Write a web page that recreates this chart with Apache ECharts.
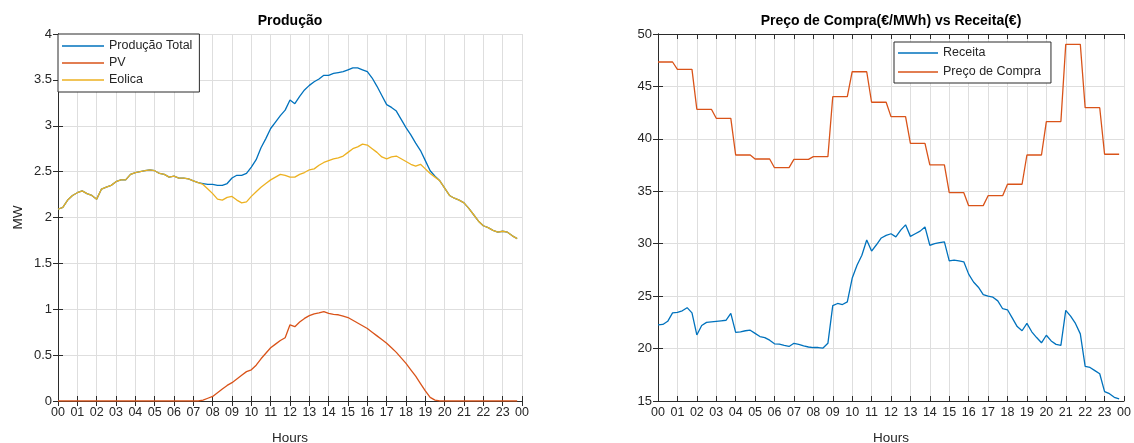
<!DOCTYPE html>
<html>
<head>
<meta charset="utf-8">
<script src="https://cdn.jsdelivr.net/npm/echarts@6/dist/echarts.min.js"></script>
<style>
  html, body { margin: 0; padding: 0; background: #ffffff; }
  #chart { width: 1134px; height: 443px; }
</style>
</head>
<body>
<div id="chart"></div>
<script>
// Hour tick labels for both x axes (midnight to midnight)
const hourLabels = ['00','01','02','03','04','05','06','07','08','09','10','11',
                    '12','13','14','15','16','17','18','19','20','21','22','23','00'];

// Production, MW, one value every 15 minutes starting at 00:00
const producaoTotal = [
  2.09, 2.11, 2.19, 2.24, 2.27, 2.29, 2.26, 2.24, 2.20, 2.31, 2.33, 2.35,
  2.39, 2.41, 2.41, 2.47, 2.49, 2.50, 2.51, 2.52, 2.51, 2.48, 2.47, 2.44,
  2.45, 2.43, 2.43, 2.42, 2.40, 2.38, 2.37, 2.36, 2.36, 2.35, 2.35, 2.37,
  2.43, 2.46, 2.46, 2.48, 2.55, 2.63, 2.76, 2.86, 2.97, 3.04, 3.11, 3.17,
  3.28, 3.24, 3.32, 3.39, 3.44, 3.48, 3.51, 3.55, 3.55, 3.57, 3.58, 3.59,
  3.61, 3.63, 3.63, 3.61, 3.59, 3.52, 3.43, 3.33, 3.23, 3.20, 3.16, 3.07,
  2.98, 2.90, 2.81, 2.73, 2.62, 2.51, 2.45, 2.40, 2.32, 2.24, 2.21, 2.19,
  2.16, 2.10, 2.03, 1.96, 1.91, 1.89, 1.86, 1.84, 1.85, 1.84, 1.80, 1.77
];
const pv = [
  0, 0, 0, 0, 0, 0, 0, 0, 0, 0, 0, 0,
  0, 0, 0, 0, 0, 0, 0, 0, 0, 0, 0, 0,
  0, 0, 0, 0, 0, 0, 0.01, 0.03, 0.05, 0.09, 0.13, 0.17,
  0.20, 0.24, 0.28, 0.32, 0.34, 0.39, 0.46, 0.52, 0.58, 0.62, 0.66, 0.69,
  0.83, 0.81, 0.86, 0.90, 0.93, 0.95, 0.96, 0.975, 0.955, 0.945, 0.94, 0.925,
  0.91, 0.88, 0.85, 0.82, 0.79, 0.75, 0.71, 0.67, 0.63, 0.58, 0.53, 0.47,
  0.41, 0.34, 0.27, 0.19, 0.11, 0.04, 0.01, 0, 0, 0, 0, 0,
  0, 0, 0, 0, 0, 0, 0, 0, 0, 0, 0, 0
];
const eolica = [
  2.09, 2.11, 2.19, 2.24, 2.27, 2.29, 2.26, 2.24, 2.20, 2.31, 2.33, 2.35,
  2.39, 2.41, 2.41, 2.47, 2.49, 2.50, 2.51, 2.52, 2.51, 2.48, 2.47, 2.44,
  2.45, 2.43, 2.43, 2.42, 2.40, 2.38, 2.36, 2.31, 2.26, 2.20, 2.19, 2.22,
  2.23, 2.19, 2.16, 2.17, 2.23, 2.28, 2.33, 2.37, 2.41, 2.44, 2.47, 2.46,
  2.44, 2.44, 2.47, 2.49, 2.52, 2.53, 2.57, 2.60, 2.62, 2.64, 2.65, 2.67,
  2.71, 2.75, 2.77, 2.80, 2.79, 2.75, 2.71, 2.66, 2.64, 2.66, 2.67, 2.64,
  2.61, 2.58, 2.56, 2.58, 2.53, 2.48, 2.44, 2.40, 2.32, 2.24, 2.21, 2.19,
  2.16, 2.10, 2.03, 1.96, 1.91, 1.89, 1.86, 1.84, 1.85, 1.84, 1.80, 1.77
];

// Revenue (€) and purchase price (€/MWh), one value every 15 minutes
const receita = [
  22.25, 22.30, 22.60, 23.40, 23.45, 23.60, 23.90, 23.40, 21.30, 22.20, 22.50, 22.55,
  22.60, 22.65, 22.70, 23.35, 21.55, 21.60, 21.70, 21.75, 21.45, 21.15, 21.05, 20.80,
  20.45, 20.42, 20.30, 20.20, 20.50, 20.40, 20.25, 20.15, 20.10, 20.10, 20.05, 20.50,
  24.10, 24.30, 24.20, 24.45, 26.70, 27.95, 28.90, 30.35, 29.30, 29.90, 30.55, 30.80,
  30.95, 30.65, 31.30, 31.80, 30.70, 30.95, 31.20, 31.60, 29.85, 30.00, 30.10, 30.17,
  28.36, 28.43, 28.36, 28.27, 27.10, 26.35, 25.85, 25.15, 25.00, 24.90, 24.55, 23.80,
  23.70, 22.90, 22.10, 21.70, 22.40, 21.60, 21.05, 20.55, 21.27, 20.73, 20.40, 20.30,
  23.65, 23.10, 22.40, 21.40, 18.30, 18.20, 17.90, 17.60, 15.90, 15.70, 15.35, 15.20
];
const precoCompra = [
  47.33, 47.33, 47.33, 47.33,  46.63, 46.63, 46.63, 46.63,  42.82, 42.82, 42.82, 42.82,
  41.96, 41.96, 41.96, 41.96,  38.46, 38.46, 38.46, 38.46,  38.08, 38.08, 38.08, 38.08,
  37.25, 37.25, 37.25, 37.25,  38.05, 38.05, 38.05, 38.05,  38.30, 38.30, 38.30, 38.30,
  44.02, 44.02, 44.02, 44.02,  46.40, 46.40, 46.40, 46.40,  43.49, 43.49, 43.49, 43.49,
  42.12, 42.12, 42.12, 42.12,  39.57, 39.57, 39.57, 39.57,  37.51, 37.51, 37.51, 37.51,
  34.87, 34.87, 34.87, 34.87,  33.63, 33.63, 33.63, 33.63,  34.58, 34.58, 34.58, 34.58,
  35.67, 35.67, 35.67, 35.67,  38.46, 38.46, 38.46, 38.46,  41.65, 41.65, 41.65, 41.65,
  49.02, 49.02, 49.02, 49.02,  42.97, 42.97, 42.97, 42.97,  38.53, 38.53, 38.53, 38.53
];

// Sample times in hours (15-minute resolution)
const SAMPLE_STEP = 0.25;
const withTime = arr => arr.map((v, i) => [i * SAMPLE_STEP, v]);

const FONT = '"Liberation Sans", Arial, Helvetica, sans-serif';
const AXIS_COLOR = '#2b2b2b';
const TEXT_COLOR = '#262626';
const GRID_COLOR = '#dedede';
const BLUE = '#0072BD', ORANGE = '#D95319', YELLOW = '#EDB120';

function hourAxis(gridIndex, position, withLabels) {
  return {
    type: 'value', gridIndex, position, min: 0, max: 24, interval: 1,
    axisLine: { show: true, lineStyle: { color: AXIS_COLOR, width: 1 } },
    axisTick: { show: true, inside: true, length: 5, lineStyle: { color: AXIS_COLOR } },
    axisLabel: {
      show: withLabels, margin: 5, color: TEXT_COLOR, fontFamily: FONT, fontSize: 12.5,
      formatter: v => hourLabels[Math.round(v)]
    },
    splitLine: { show: withLabels, lineStyle: { color: GRID_COLOR, width: 1 } },
    name: withLabels ? 'Hours' : '',
    nameLocation: 'middle', nameGap: 30,
    nameTextStyle: { color: TEXT_COLOR, fontFamily: FONT, fontSize: 13.5 }
  };
}

function valueAxis(gridIndex, position, min, max, interval, withLabels, name) {
  return {
    type: 'value', gridIndex, position, min, max, interval,
    axisLine: { show: true, lineStyle: { color: AXIS_COLOR, width: 1 } },
    axisTick: { show: true, inside: true, length: 5, lineStyle: { color: AXIS_COLOR } },
    axisLabel: { show: withLabels, margin: 6, color: TEXT_COLOR, fontFamily: FONT, fontSize: 13 },
    splitLine: { show: withLabels, lineStyle: { color: GRID_COLOR, width: 1 } },
    name: name || '',
    nameLocation: 'middle', nameGap: 33,
    nameTextStyle: { color: TEXT_COLOR, fontFamily: FONT, fontSize: 13.5 }
  };
}

function lineSeries(name, data, color, xi, yi) {
  return {
    name, type: 'line', data: withTime(data),
    xAxisIndex: xi, yAxisIndex: yi,
    symbol: 'none', smooth: false, animation: false,
    lineStyle: { color, width: 1.3 }, itemStyle: { color }
  };
}

const legendText = { color: TEXT_COLOR, fontFamily: FONT, fontSize: 12.5, lineHeight: 14 };

const option = {
  backgroundColor: '#ffffff',
  animation: false,
  title: [
    { text: 'Produção', left: 290, top: 14, textAlign: 'center', padding: 0,
      textStyle: { fontFamily: FONT, fontSize: 14, fontWeight: 'bold', color: '#000' } },
    { text: 'Preço de Compra(€/MWh) vs Receita(€)', left: 891, top: 14, textAlign: 'center', padding: 0,
      textStyle: { fontFamily: FONT, fontSize: 14, fontWeight: 'bold', color: '#000' } }
  ],
  grid: [
    { left: 58, top: 34, width: 464, height: 367, containLabel: false, outerBoundsMode: 'none' },
    { left: 658, top: 34, width: 466, height: 367, containLabel: false, outerBoundsMode: 'none' }
  ],
  xAxis: [
    hourAxis(0, 'bottom', true),
    hourAxis(0, 'top', false),
    hourAxis(1, 'bottom', true),
    hourAxis(1, 'top', false)
  ],
  yAxis: [
    valueAxis(0, 'left', 0, 4, 0.5, true, 'MW'),
    valueAxis(0, 'right', 0, 4, 0.5, false),
    valueAxis(1, 'left', 15, 50, 5, true),
    valueAxis(1, 'right', 15, 50, 5, false)
  ],
  legend: [
    { data: ['Produção Total', 'PV', 'Eolica'], orient: 'vertical', left: 58, top: 34,
      icon: 'rect', padding: [5, 7, 5, 4], itemGap: 3, itemWidth: 42, itemHeight: 1.4,
      backgroundColor: '#ffffff', borderColor: AXIS_COLOR, borderWidth: 1, borderRadius: 0,
      textStyle: legendText, selectedMode: false },
    { data: ['Receita', 'Preço de Compra'], orient: 'vertical', left: 894, top: 42,
      icon: 'rect', padding: [4, 10, 4, 4], itemGap: 5, itemWidth: 40, itemHeight: 1.4,
      backgroundColor: '#ffffff', borderColor: AXIS_COLOR, borderWidth: 1, borderRadius: 0,
      textStyle: legendText, selectedMode: false }
  ],
  series: [
    lineSeries('Produção Total', producaoTotal, BLUE, 0, 0),
    lineSeries('PV', pv, ORANGE, 0, 0),
    lineSeries('Eolica', eolica, YELLOW, 0, 0),
    lineSeries('Receita', receita, BLUE, 2, 2),
    lineSeries('Preço de Compra', precoCompra, ORANGE, 2, 2)
  ]
};

const chart = echarts.init(document.getElementById('chart'), null, { renderer: 'canvas' });
chart.setOption(option);
</script>
</body>
</html>
